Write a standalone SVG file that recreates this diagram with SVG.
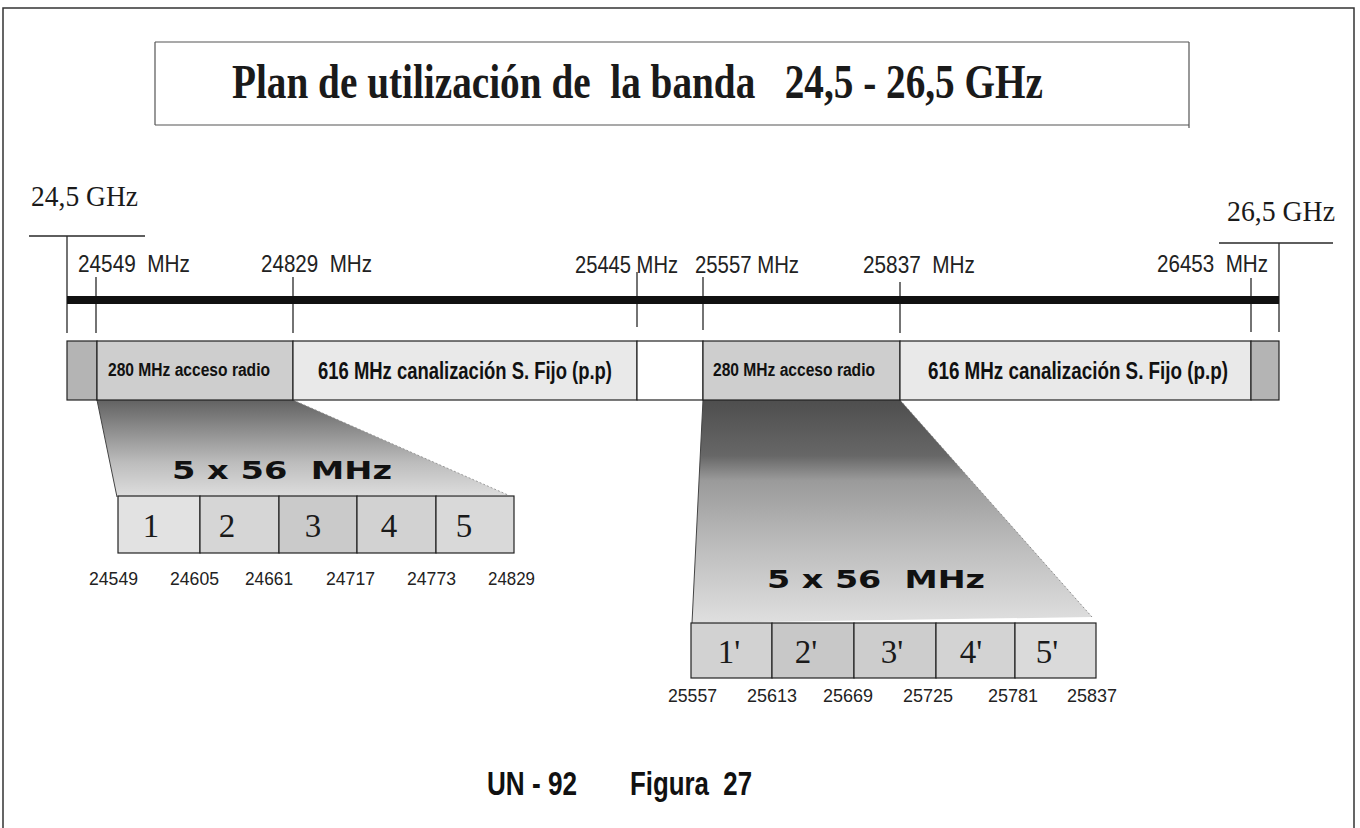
<svg xmlns="http://www.w3.org/2000/svg" width="1360" height="828" viewBox="0 0 1360 828">
<defs>
<style>
.ln{stroke:#2a2a2a;stroke-width:1.3;fill:none}
.bx{stroke:#222;stroke-width:1.2}
.mhz{font-family:"Liberation Sans",Arial,sans-serif;font-size:24px;fill:#222}
.num{font-family:"Liberation Sans",Arial,sans-serif;font-size:18.5px;fill:#222}
.bl{font-family:"Liberation Sans",Arial,sans-serif;font-weight:bold;fill:#111}
.ch{font-family:"Liberation Serif","Times New Roman",serif;font-size:33px;fill:#1a1a1a;text-anchor:middle}
.big{font-family:"DejaVu Sans","Liberation Sans",sans-serif;font-weight:bold;font-size:24px;fill:#111}
.ghz{font-family:"Liberation Serif","Times New Roman",serif;font-size:30px;fill:#1a1a1a}
</style>
<linearGradient id="fanL" x1="0" y1="0" x2="0" y2="1">
<stop offset="0" stop-color="#626262"/>
<stop offset="0.3" stop-color="#8c8c8c"/>
<stop offset="0.65" stop-color="#bdbdbd"/>
<stop offset="1" stop-color="#dedede"/>
</linearGradient>
<linearGradient id="fanR" x1="0" y1="0" x2="0" y2="1">
<stop offset="0" stop-color="#4e4e4e"/>
<stop offset="0.25" stop-color="#676767"/>
<stop offset="0.36" stop-color="#9a9a9a"/>
<stop offset="0.65" stop-color="#bcbcbc"/>
<stop offset="1" stop-color="#dfdfdf"/>
</linearGradient>
</defs>
<rect width="1360" height="828" fill="#fff"/>
<g id="frame"><path d="M3,828 V8 H1354 V828" stroke="#333" stroke-width="1.5" fill="none"/></g>
<g id="title">
<path d="M155,42 H1189 M155,125 H1189 M155,42 V125 M1189,42 V128" stroke="#555" stroke-width="1.2" fill="none"/>
<text x="232" y="98" xml:space="preserve" textLength="811" lengthAdjust="spacingAndGlyphs" style="font-family:'Liberation Serif','Times New Roman',serif;font-weight:bold;font-size:48px;fill:#1a1a1a">Plan de utilización de  la banda   24,5 - 26,5 GHz</text>
</g>
<g id="connectors">
<path class="ln" d="M29,236 H145 M67,236 V333 M96,277 V333 M293,277 V333 M637,272 V327 M703,277 V330 M900,282 V333 M1251,278 V332 M1279,243 V332 M1219,243 H1333"/>
<rect x="67" y="296" width="1212" height="8" fill="#111"/>
<polygon points="97,400 293,400 508,495 117,497" fill="url(#fanL)"/>
<line x1="97" y1="400" x2="117" y2="497" stroke="#444" stroke-width="1"/>
<line x1="293" y1="400" x2="508" y2="495" stroke="#888" stroke-width="0.8" stroke-dasharray="2,2"/>
<polygon points="703,400 900,400 1092,617 692,623" fill="url(#fanR)"/>
<line x1="703" y1="400" x2="692" y2="623" stroke="#444" stroke-width="1"/>
<line x1="900" y1="400" x2="1092" y2="617" stroke="#777" stroke-width="0.8" stroke-dasharray="2,2"/>
</g>
<g id="edge-labels">
<text class="ghz" x="31" y="206" textLength="107" lengthAdjust="spacingAndGlyphs">24,5 GHz</text>
<text class="ghz" x="1227" y="221" textLength="108" lengthAdjust="spacingAndGlyphs">26,5 GHz</text>
<text class="mhz" x="78" y="272" xml:space="preserve" textLength="112" lengthAdjust="spacingAndGlyphs">24549  MHz</text>
<text class="mhz" x="261" y="272" xml:space="preserve" textLength="111" lengthAdjust="spacingAndGlyphs">24829  MHz</text>
<text class="mhz" x="575" y="273" textLength="103" lengthAdjust="spacingAndGlyphs">25445 MHz</text>
<text class="mhz" x="695" y="273" textLength="104" lengthAdjust="spacingAndGlyphs">25557 MHz</text>
<text class="mhz" x="863" y="273" xml:space="preserve" textLength="112" lengthAdjust="spacingAndGlyphs">25837  MHz</text>
<text class="mhz" x="1157" y="272" xml:space="preserve" textLength="111" lengthAdjust="spacingAndGlyphs">26453  MHz</text>
</g>
<g id="guard-left"><rect class="bx" x="67" y="341" width="30" height="59" fill="#b4b4b4"/></g>
<g id="radio-1"><rect class="bx" x="97" y="341" width="196" height="59" fill="#cecece"/>
<text class="bl" x="108" y="376" font-size="18" textLength="162" lengthAdjust="spacingAndGlyphs">280 MHz acceso radio</text></g>
<g id="fijo-1"><rect class="bx" x="293" y="341" width="344" height="59" fill="#e9e9e9"/>
<text class="bl" x="318" y="379" font-size="23" textLength="294" lengthAdjust="spacingAndGlyphs">616 MHz canalización S. Fijo (p.p)</text></g>
<g id="gap"><rect class="bx" x="637" y="341" width="66" height="59" fill="#fff"/></g>
<g id="radio-2"><rect class="bx" x="703" y="341" width="197" height="59" fill="#cecece"/>
<text class="bl" x="713" y="376" font-size="18" textLength="162" lengthAdjust="spacingAndGlyphs">280 MHz acceso radio</text></g>
<g id="fijo-2"><rect class="bx" x="900" y="341" width="351" height="59" fill="#e9e9e9"/>
<text class="bl" x="928" y="379" font-size="23" textLength="300" lengthAdjust="spacingAndGlyphs">616 MHz canalización S. Fijo (p.p)</text></g>
<g id="guard-right"><rect class="bx" x="1251" y="341" width="28" height="59" fill="#b4b4b4"/></g>
<g id="channels-left">
<text class="big" x="172" y="479" xml:space="preserve" textLength="220" lengthAdjust="spacingAndGlyphs">5 x 56  MHz</text>
<rect class="bx" x="118" y="496" width="82" height="57" fill="#e2e2e2"/>
<rect class="bx" x="200" y="496" width="79" height="57" fill="#d6d6d6"/>
<rect class="bx" x="279" y="496" width="78" height="57" fill="#cacaca"/>
<rect class="bx" x="357" y="496" width="79" height="57" fill="#d2d2d2"/>
<rect class="bx" x="436" y="496" width="78" height="57" fill="#d9d9d9"/>
<text class="ch" x="151" y="537">1</text>
<text class="ch" x="227" y="537">2</text>
<text class="ch" x="313" y="537">3</text>
<text class="ch" x="389" y="537">4</text>
<text class="ch" x="464" y="537">5</text>
<text class="num" x="89" y="585" textLength="49" lengthAdjust="spacingAndGlyphs">24549</text>
<text class="num" x="170" y="585" textLength="49" lengthAdjust="spacingAndGlyphs">24605</text>
<text class="num" x="245" y="585" textLength="48" lengthAdjust="spacingAndGlyphs">24661</text>
<text class="num" x="326" y="585" textLength="49" lengthAdjust="spacingAndGlyphs">24717</text>
<text class="num" x="407" y="585" textLength="49" lengthAdjust="spacingAndGlyphs">24773</text>
<text class="num" x="488" y="585" textLength="47" lengthAdjust="spacingAndGlyphs">24829</text>
</g>
<g id="channels-right">
<text class="big" x="767" y="588" xml:space="preserve" textLength="218" lengthAdjust="spacingAndGlyphs">5 x 56  MHz</text>
<rect class="bx" x="691" y="623" width="81" height="55" fill="#d2d2d2"/>
<rect class="bx" x="772" y="623" width="82" height="55" fill="#c8c8c8"/>
<rect class="bx" x="854" y="623" width="82" height="55" fill="#cdcdcd"/>
<rect class="bx" x="936" y="623" width="79" height="55" fill="#d3d3d3"/>
<rect class="bx" x="1015" y="623" width="81" height="55" fill="#dadada"/>
<text class="ch" x="729" y="663">1'</text>
<text class="ch" x="806" y="663">2'</text>
<text class="ch" x="892" y="663">3'</text>
<text class="ch" x="971" y="663">4'</text>
<text class="ch" x="1047" y="663">5'</text>
<text class="num" x="668" y="702" textLength="49" lengthAdjust="spacingAndGlyphs">25557</text>
<text class="num" x="747" y="702" textLength="50" lengthAdjust="spacingAndGlyphs">25613</text>
<text class="num" x="823" y="702" textLength="50" lengthAdjust="spacingAndGlyphs">25669</text>
<text class="num" x="903" y="702" textLength="50" lengthAdjust="spacingAndGlyphs">25725</text>
<text class="num" x="988" y="702" textLength="50" lengthAdjust="spacingAndGlyphs">25781</text>
<text class="num" x="1067" y="702" textLength="50" lengthAdjust="spacingAndGlyphs">25837</text>
</g>
<g id="caption">
<text class="bl" x="487" y="795" font-size="33" xml:space="preserve" textLength="90" lengthAdjust="spacingAndGlyphs">UN - 92</text>
<text class="bl" x="630" y="795" font-size="33" xml:space="preserve" textLength="122" lengthAdjust="spacingAndGlyphs">Figura  27</text>
</g>
</svg>
